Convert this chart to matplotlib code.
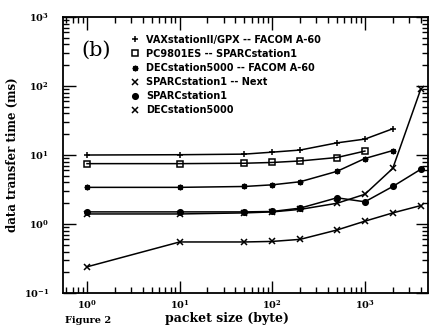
import matplotlib
matplotlib.use('Agg')
import matplotlib.pyplot as plt
from matplotlib.lines import Line2D
from matplotlib.ticker import LogLocator, NullFormatter

# packet sizes (byte)
sizes = [1, 10, 50, 100, 200, 500, 1000, 2000, 4000]

# data transfer time (ms)
vax_facom = [10, 10.1, 10.3, 11, 11.8, 15, 17, 24]
pc_sparc = [7.5, 7.5, 7.6, 7.8, 8.2, 9.2, 11.4]
dec_facom = [3.4, 3.4, 3.5, 3.7, 4.1, 5.8, 8.9, 11.6]
sparc_next = [1.4, 1.4, 1.45, 1.5, 1.63, 2.0, 2.7, 6.4, 89]
sparc1 = [1.5, 1.5, 1.5, 1.52, 1.7, 2.4, 2.1, 3.5, 6.2]
dec5000 = [0.24, 0.55, 0.55, 0.56, 0.6, 0.82, 1.1, 1.45, 1.85]

labels = ['VAXstationII/GPX -- FACOM A-60',
          'PC9801ES -- SPARCstation1',
          'DECstation5000 -- FACOM A-60',
          'SPARCstation1 -- Next',
          'SPARCstation1',
          'DECstation5000']
series = [vax_facom, pc_sparc, dec_facom, sparc_next, sparc1, dec5000]
markers = ['+', 's', (8, 1, 0), 'x', 'o', 'x']
mfill = ['black', 'none', 'black', 'black', 'black', 'black']

plt.rcParams['font.family'] = 'DejaVu Serif'
plt.rcParams['mathtext.fontset'] = 'dejavuserif'

fig = plt.figure(figsize=(4.31, 3.26), dpi=100)
ax = fig.add_axes([0.146, 0.101, 0.847, 0.847])

for ys, m, fc in zip(series, markers, mfill):
    ax.plot(sizes[:len(ys)], ys, color='black', lw=1.1, marker=m,
            markersize=4, markerfacecolor=fc, markeredgecolor='black',
            markeredgewidth=1.1)

ax.set_xscale('log')
ax.set_yscale('log')
ax.set_xlim(0.55, 4800)
ax.set_ylim(0.1, 1000)

ax.xaxis.set_minor_locator(LogLocator(base=10, subs=range(2, 10)))
ax.yaxis.set_minor_locator(LogLocator(base=10, subs=range(2, 10)))
ax.xaxis.set_minor_formatter(NullFormatter())
ax.yaxis.set_minor_formatter(NullFormatter())
ax.tick_params(which='both', direction='in', top=True, right=True,
               labelsize=7, width=1)
ax.tick_params(which='major', length=9)
ax.tick_params(which='minor', length=4)
ax.tick_params(axis='y', which='major', pad=10)
for lab in ax.get_xticklabels() + ax.get_yticklabels():
    lab.set_fontweight('bold')
for s in ax.spines.values():
    s.set_linewidth(1.3)

ax.set_xlabel('packet size (byte)', fontsize=9, fontweight='bold',
              labelpad=1)
ax.xaxis.set_label_coords(0.45, -0.068)
ax.set_ylabel('data transfer time (ms)', fontsize=8.5, fontweight='bold',
              labelpad=3)

ax.text(0.09, 0.88, '(b)', transform=ax.transAxes, fontsize=15,
        ha='center', va='center')

handles = [Line2D([], [], ls='none', marker=m, color='black', markersize=4,
                  markerfacecolor=fc, markeredgewidth=1.1)
           for m, fc in zip(markers, mfill)]
leg = ax.legend(handles, labels, loc='upper left',
                bbox_to_anchor=(0.17, 0.96), frameon=False,
                prop={'family': 'DejaVu Sans', 'weight': 'bold', 'size': 7},
                handlelength=0.6, handletextpad=0.9, labelspacing=0.42,
                borderpad=0.2)

fig.text(0.15, 0.002, 'Figure 2', fontsize=7, fontweight='bold',
         va='bottom')

fig.savefig('out.png', dpi=100)
